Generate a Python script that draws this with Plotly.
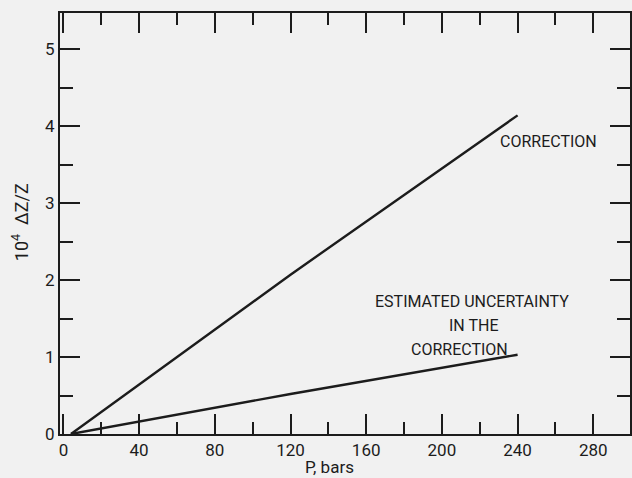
import plotly.graph_objects as go

# Data
pressure_bars = [4, 120, 240]
correction = [0.0, 2.07, 4.14]
uncertainty = [0.0, 0.52, 1.03]

x_ticks = [0, 40, 80, 120, 160, 200, 240, 280]
y_ticks = [0, 1, 2, 3, 4, 5]

BG = "#f1f1f1"
INK = "#1c1c1c"
FONT = "Roboto"

fig = go.Figure()
fig.add_trace(go.Scatter(x=pressure_bars, y=correction, mode="lines",
                         line=dict(color=INK, width=2.4), showlegend=False,
                         name="Correction"))
fig.add_trace(go.Scatter(x=pressure_bars, y=uncertainty, mode="lines",
                         line=dict(color=INK, width=2.4), showlegend=False,
                         name="Estimated uncertainty in the correction"))

axis_common = dict(showgrid=False, zeroline=False, showline=True, linecolor=INK,
                   linewidth=2, mirror="ticks", ticks="inside", tickcolor=INK,
                   tickwidth=1.5, ticklen=20,
                   tickfont=dict(family=FONT, size=17, color=INK))

fig.update_xaxes(range=[-1.8, 299.4], tickvals=x_ticks,
                 ticktext=[str(v) for v in x_ticks],
                 minor=dict(dtick=20, tick0=0, ticks="inside", ticklen=12,
                            tickwidth=1.5, tickcolor=INK, showgrid=False),
                 **axis_common)
fig.update_yaxes(range=[0, 5.47], tickvals=y_ticks,
                 ticktext=[str(v) for v in y_ticks],
                 minor=dict(dtick=0.5, tick0=0, ticks="inside", ticklen=13,
                            tickwidth=1.5, tickcolor=INK, showgrid=False),
                 **axis_common)

W, H = 632, 478
ML, MT, MB, MR = 60, 13, 44, 0
pw, ph = W - ML - MR, H - MT - MB

ann_font = dict(family=FONT, size=16, color=INK)
# (text, pixel x, pixel y, xanchor, font, angle)
labels = [
    ("CORRECTION", 500, 141, "left", ann_font, 0),
    ("ESTIMATED UNCERTAINTY", 473, 301, "center", ann_font, 0),
    ("IN THE", 475, 325, "center", ann_font, 0),
    ("CORRECTION", 461, 349, "center", ann_font, 0),
    ("P, bars", 330, 467, "center", dict(family=FONT, size=17, color=INK), 0),
    ("10<sup>4</sup>  ΔZ/Z", 20, 222, "center", dict(family=FONT, size=18, color=INK), -90),
]
for text, px, py, xa, font, ang in labels:
    fig.add_annotation(xref="paper", yref="paper",
                       x=(px - ML) / pw, y=1 - (py - MT) / ph,
                       text=text, showarrow=False, font=font,
                       xanchor=xa, yanchor="middle", textangle=ang)

fig.update_layout(width=W, height=H, margin=dict(l=ML, r=MR, t=MT, b=MB),
                  paper_bgcolor=BG, plot_bgcolor=BG, showlegend=False,
                  font=dict(family=FONT, color=INK))

fig.write_html("out.html", config={"displayModeBar": False},
               post_script="document.body.style.margin='0';document.body.style.background='%s';" % BG)
